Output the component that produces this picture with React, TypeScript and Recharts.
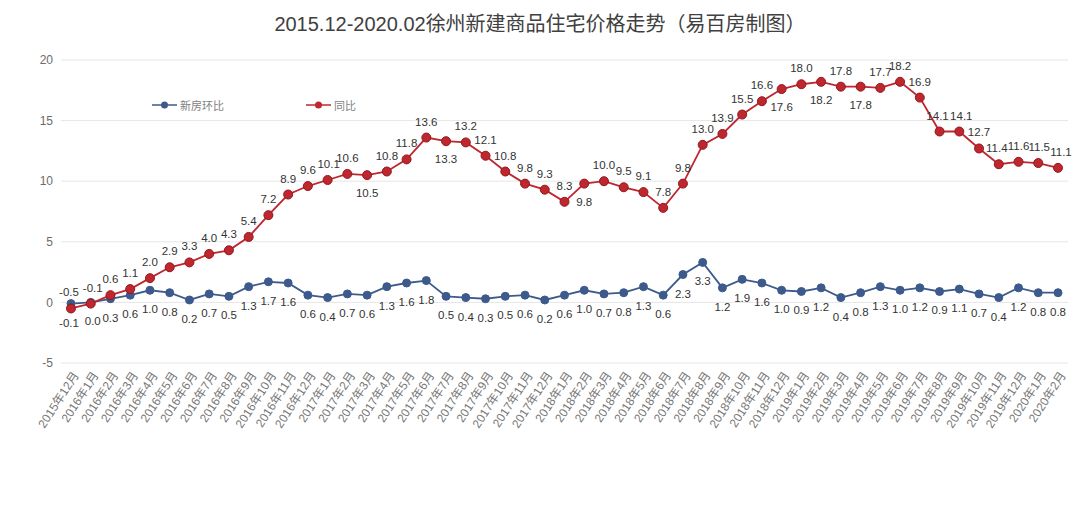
import { LineChart, Line, XAxis, YAxis, CartesianGrid, LabelList } from 'recharts'

const months = [
  '2015年12月',
  '2016年1月', '2016年2月', '2016年3月', '2016年4月', '2016年5月', '2016年6月',
  '2016年7月', '2016年8月', '2016年9月', '2016年10月', '2016年11月', '2016年12月',
  '2017年1月', '2017年2月', '2017年3月', '2017年4月', '2017年5月', '2017年6月',
  '2017年7月', '2017年8月', '2017年9月', '2017年10月', '2017年11月', '2017年12月',
  '2018年1月', '2018年2月', '2018年3月', '2018年4月', '2018年5月', '2018年6月',
  '2018年7月', '2018年8月', '2018年9月', '2018年10月', '2018年11月', '2018年12月',
  '2019年1月', '2019年2月', '2019年3月', '2019年4月', '2019年5月', '2019年6月',
  '2019年7月', '2019年8月', '2019年9月', '2019年10月', '2019年11月', '2019年12月',
  '2020年1月', '2020年2月',
]

// 新房环比
const mom = [
  -0.1, 0.0, 0.3, 0.6, 1.0, 0.8, 0.2, 0.7, 0.5, 1.3, 1.7, 1.6, 0.6,
  0.4, 0.7, 0.6, 1.3, 1.6, 1.8, 0.5, 0.4, 0.3, 0.5, 0.6, 0.2,
  0.6, 1.0, 0.7, 0.8, 1.3, 0.6, 2.3, 3.3, 1.2, 1.9, 1.6, 1.0,
  0.9, 1.2, 0.4, 0.8, 1.3, 1.0, 1.2, 0.9, 1.1, 0.7, 0.4, 1.2,
  0.8, 0.8,
]

// 同比
const yoy = [
  -0.5, -0.1, 0.6, 1.1, 2.0, 2.9, 3.3, 4.0, 4.3, 5.4, 7.2, 8.9, 9.6,
  10.1, 10.6, 10.5, 10.8, 11.8, 13.6, 13.3, 13.2, 12.1, 10.8, 9.8, 9.3,
  8.3, 9.8, 10.0, 9.5, 9.1, 7.8, 9.8, 13.0, 13.9, 15.5, 16.6, 17.6,
  18.0, 18.2, 17.8, 17.8, 17.7, 18.2, 16.9, 14.1, 14.1, 12.7, 11.4, 11.6,
  11.5, 11.1,
]

// 同比 labels that sit under their point in the original
const yoyBelow = [15, 19, 26, 36, 38, 40]
// small sideways nudges where labels crowd each other
const yoyNudge: Record<number, number> = { 0: -2, 1: 2, 13: 1, 44: -2, 45: 2, 47: -2, 49: 1, 50: 3 }
const momNudge: Record<number, number> = { 0: -2, 1: 2 }

const yTicks = [-5, 0, 5, 10, 15, 20]

const data = months.map((m, i) => ({ month: m, mom: mom[i], yoy: yoy[i] }))

const BLUE = '#3d5a8c'
const RED = '#c0262d'
const FONT = "'Liberation Sans', 'Noto Sans CJK SC', sans-serif"

function XTick({ x, y, payload }: any) {
  const ax = x + 5
  const ay = y + 2
  return (
    <text
      x={ax}
      y={ay}
      transform={`rotate(-57 ${ax} ${ay})`}
      textAnchor="end"
      dominantBaseline="central"
      fontSize={12}
      style={{ fill: '#777' }}
      fontFamily={FONT}
    >
      {payload.value}
    </text>
  )
}

function MomLabel({ x, y, value, index }: any) {
  return (
    <text
      x={x + (momNudge[index] ?? 0)}
      y={y + 19}
      textAnchor="middle"
      dominantBaseline="central"
      fontSize={11.5}
      style={{ fill: '#333' }}
      fontFamily={FONT}
    >
      {Number(value).toFixed(1)}
    </text>
  )
}

function YoyLabel({ x, y, value, index }: any) {
  const below = yoyBelow.includes(index)
  return (
    <text
      x={x + (yoyNudge[index] ?? 0)}
      y={below ? y + 18 : y - 16}
      textAnchor="middle"
      dominantBaseline="central"
      fontSize={11.5}
      style={{ fill: '#333' }}
      fontFamily={FONT}
    >
      {Number(value).toFixed(1)}
    </text>
  )
}

function LegendBox() {
  const items = [
    { name: '新房环比', color: BLUE, left: 0 },
    { name: '同比', color: RED, left: 154 },
  ]
  return (
    <div style={{ position: 'absolute', top: 97, left: 152, height: 16, width: 260 }}>
      {items.map((it) => (
        <div key={it.name} style={{ position: 'absolute', left: it.left, top: 0, display: 'flex', alignItems: 'center' }}>
          <svg width={26} height={12}>
            <line x1={0} y1={6} x2={25} y2={6} stroke={it.color} strokeWidth={1.5} />
            <circle cx={12.5} cy={6} r={3.5} fill={it.color} />
          </svg>
          <span style={{ marginLeft: 2, fontSize: 11, color: '#7f7f7f', fontFamily: FONT }}>{it.name}</span>
        </div>
      ))}
    </div>
  )
}

export default function App() {
  return (
    <div style={{ position: 'absolute', left: 0, top: 0, width: 1080, height: 524, background: '#fff' }}>
      <div
        style={{
          position: 'absolute',
          top: 8,
          left: 0,
          width: 1080,
          textAlign: 'center',
          fontSize: 20,
          color: '#404040',
          fontFamily: FONT,
        }}
      >
        2015.12-2020.02徐州新建商品住宅价格走势（易百房制图）
      </div>
      <LineChart width={1080} height={524} data={data} margin={{ top: 60, right: 12, left: 0, bottom: 0 }}>
        <CartesianGrid horizontal vertical={false} stroke="#e6e6e6" />
        <XAxis
          dataKey="month"
          interval={0}
          axisLine={false}
          tickLine={false}
          height={161}
          padding={{ left: 10, right: 10 }}
          tick={<XTick />}
        />
        <YAxis
          domain={[-5, 20]}
          ticks={yTicks}
          width={61}
          axisLine={false}
          tickLine={false}
          tick={{ fontSize: 12, fill: '#6b6b6b', fontFamily: FONT }}
        />
        <Line
          dataKey="mom"
          name="新房环比"
          stroke={BLUE}
          strokeWidth={1.8}
          dot={{ r: 4, fill: BLUE, stroke: BLUE, strokeWidth: 1 }}
          isAnimationActive={false}
        >
          <LabelList dataKey="mom" content={<MomLabel />} />
        </Line>
        <Line
          dataKey="yoy"
          name="同比"
          stroke={RED}
          strokeWidth={1.8}
          dot={{ r: 4.5, fill: RED, stroke: '#8e1a20', strokeWidth: 1 }}
          isAnimationActive={false}
        >
          <LabelList dataKey="yoy" content={<YoyLabel />} />
        </Line>
      </LineChart>
      <LegendBox />
    </div>
  )
}
